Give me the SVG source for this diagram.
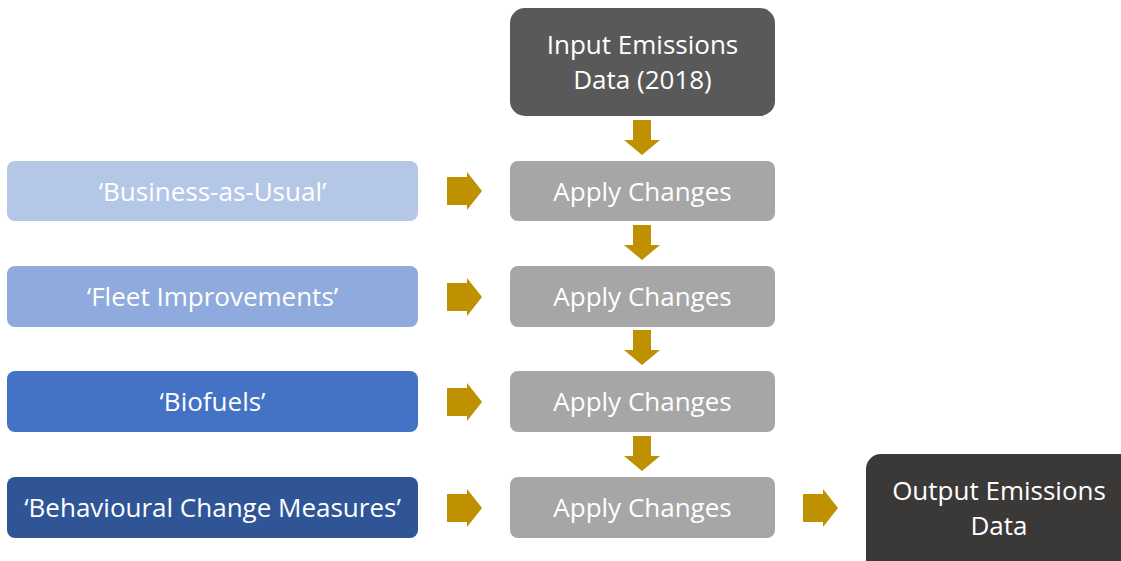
<svg xmlns="http://www.w3.org/2000/svg" width="1121" height="561" viewBox="0 0 1121 561">
  <style>
    .lbl { font-family: "Open Sans", "Liberation Sans", sans-serif; font-size: 26px; fill: #FFFFFF; text-anchor: middle; }
    .apply { fill: #A6A6A6; }
    .arrow { fill: #BF9000; }
  </style>
  <defs>
    <!-- block arrows, drawn at the origin and positioned with x/y -->
    <path id="down" d="M7,0 H25 V20 H34 L16,35 L-2,20 H7 Z"/>
    <path id="right" d="M0,-14 H20 V-19 L35,0 L20,19 V14 H0 Z"/>
  </defs>
  <rect width="1121" height="561" fill="#FFFFFF"/>

  <g id="input">
    <rect x="510" y="8" width="265" height="108" rx="15" fill="#595959"/>
    <text class="lbl" x="642.5" y="54">Input Emissions</text>
    <text class="lbl" x="642.5" y="89">Data (2018)</text>
  </g>

  <g id="bau">
    <rect x="7" y="161" width="411" height="60" rx="8" fill="#B4C7E7"/>
    <text class="lbl" x="212.5" y="201">‘Business-as-Usual’</text>
  </g>
  <g id="fleet">
    <rect x="7" y="266" width="411" height="61" rx="8" fill="#8FAADC"/>
    <text class="lbl" x="212.5" y="306">‘Fleet Improvements’</text>
  </g>
  <g id="biofuels">
    <rect x="7" y="371" width="411" height="61" rx="8" fill="#4472C4"/>
    <text class="lbl" x="212.5" y="411">‘Biofuels’</text>
  </g>
  <g id="behavioural">
    <rect x="7" y="477" width="411" height="61" rx="8" fill="#2F5597"/>
    <text class="lbl" x="212.5" y="517">‘Behavioural Change Measures’</text>
  </g>

  <g id="apply1">
    <rect class="apply" x="510" y="161" width="265" height="60" rx="8"/>
    <text class="lbl" x="642.5" y="201">Apply Changes</text>
  </g>
  <g id="apply2">
    <rect class="apply" x="510" y="266" width="265" height="61" rx="8"/>
    <text class="lbl" x="642.5" y="306">Apply Changes</text>
  </g>
  <g id="apply3">
    <rect class="apply" x="510" y="371" width="265" height="61" rx="8"/>
    <text class="lbl" x="642.5" y="411">Apply Changes</text>
  </g>
  <g id="apply4">
    <rect class="apply" x="510" y="477" width="265" height="61" rx="8"/>
    <text class="lbl" x="642.5" y="517">Apply Changes</text>
  </g>

  <g id="output">
    <rect x="866" y="454" width="270" height="120" rx="15" fill="#3B3838"/>
    <text class="lbl" x="999" y="500">Output Emissions</text>
    <text class="lbl" x="999" y="535">Data</text>
  </g>

  <g id="connectors" class="arrow">
    <use href="#down" x="626" y="120"/>
    <use href="#down" x="626" y="225"/>
    <use href="#down" x="626" y="330"/>
    <use href="#down" x="626" y="436"/>
    <use href="#right" x="447" y="191"/>
    <use href="#right" x="447" y="297"/>
    <use href="#right" x="447" y="402"/>
    <use href="#right" x="447" y="508"/>
    <use href="#right" x="803" y="508"/>
  </g>
</svg>
